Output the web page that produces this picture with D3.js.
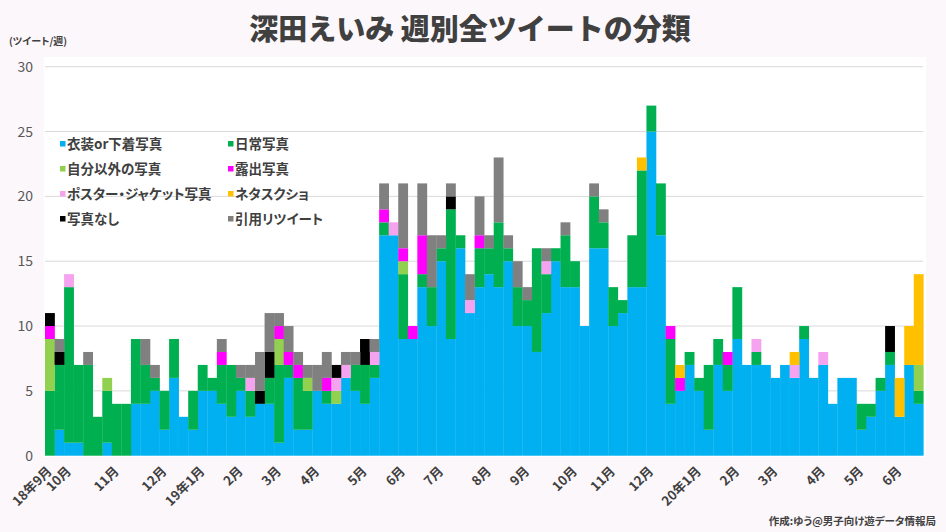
<!DOCTYPE html>
<html><head><meta charset="utf-8">
<script src="https://cdn.jsdelivr.net/npm/d3@7"></script>
<style>
html,body{margin:0;padding:0;background:#fcf7fb;}
svg{display:block;font-family:"Noto Sans CJK JP","Noto Sans",sans-serif;}
.palt{font-feature-settings:"palt";}
</style></head>
<body><svg id="chart" width="946" height="532"></svg>
<script>
// ---- data (weekly tweet counts, 92 weeks) ----
const seriesNames = ["衣装or下着写真","日常写真","自分以外の写真","露出写真","ポスター・ジャケット写真","ネタスクショ","写真なし","引用リツイート"];
const seriesColors = ["#00b0f0","#00b050","#92d050","#ff00ff","#f5a3ef","#ffc000","#000000","#808080"];
const costume   = [0,2,1,1,0,0,1,0,0,4,4,5,2,6,3,2,5,5,4,3,5,3,4,4,1,6,2,2,5,4,4,6,5,4,6,17,17,9,9,13,10,15,9,16,11,13,14,13,15,10,10,8,11,15,13,13,10,16,16,10,11,13,13,25,17,4,5,7,5,2,7,5,9,7,7,7,6,7,6,9,6,7,4,6,6,2,3,5,7,3,7,4];
const daily     = [5,5,12,6,7,3,4,4,4,5,3,1,3,3,0,3,2,1,3,4,1,2,0,2,6,1,4,3,0,1,0,0,2,3,1,1,0,5,0,1,3,1,10,1,0,3,2,5,1,3,2,8,3,1,4,2,0,4,2,3,1,4,9,2,4,5,0,1,1,5,2,2,4,0,1,0,0,0,0,1,0,0,0,0,0,2,1,1,1,0,0,1];
const others    = [4,0,0,0,0,0,1,0,0,0,0,0,0,0,0,0,0,0,0,0,0,0,0,0,2,0,0,1,0,0,1,0,0,0,0,0,0,1,0,0,0,0,0,0,0,0,0,0,0,0,0,0,0,0,0,0,0,0,0,0,0,0,0,0,0,0,0,0,0,0,0,0,0,0,0,0,0,0,0,0,0,0,0,0,0,0,0,0,0,0,0,2];
const exposure  = [1,0,0,0,0,0,0,0,0,0,0,0,0,0,0,0,0,0,1,0,0,0,0,0,1,1,1,0,0,1,0,0,0,0,0,1,0,1,1,3,0,0,0,0,0,1,0,0,0,0,0,0,0,0,0,0,0,0,0,0,0,0,0,0,0,1,1,0,0,0,0,1,0,0,0,0,0,0,0,0,0,0,0,0,0,0,0,0,0,0,0,0];
const poster    = [0,0,1,0,0,0,0,0,0,0,0,0,0,0,0,0,0,0,0,0,0,1,0,0,0,0,0,0,0,0,1,1,0,0,1,0,1,0,0,0,0,0,0,0,1,0,0,0,0,0,0,0,1,0,0,0,0,0,0,0,0,0,0,0,0,0,0,0,0,0,0,0,0,0,1,0,0,0,1,0,0,1,0,0,0,0,0,0,0,0,0,0];
const neta      = [0,0,0,0,0,0,0,0,0,0,0,0,0,0,0,0,0,0,0,0,0,0,0,0,0,0,0,0,0,0,0,0,0,0,0,0,0,0,0,0,0,0,0,0,0,0,0,0,0,0,0,0,0,0,0,0,0,0,0,0,0,0,1,0,0,0,1,0,0,0,0,0,0,0,0,0,0,0,1,0,0,0,0,0,0,0,0,0,0,3,3,7];
const noPhoto   = [1,1,0,0,0,0,0,0,0,0,0,0,0,0,0,0,0,0,0,0,0,0,1,2,0,0,0,0,0,0,1,0,0,2,0,0,0,0,0,0,0,0,1,0,0,0,0,0,0,0,0,0,0,0,0,0,0,0,0,0,0,0,0,0,0,0,0,0,0,0,0,0,0,0,0,0,0,0,0,0,0,0,0,0,0,0,0,0,2,0,0,0];
const quoteRT   = [0,1,0,0,1,0,0,0,0,0,2,1,0,0,0,0,0,0,1,0,1,1,3,3,1,2,1,1,2,2,0,1,1,0,1,2,0,5,0,4,4,1,1,0,2,3,1,5,1,2,1,0,1,0,1,0,0,1,1,0,0,0,0,0,0,0,0,0,0,0,0,0,0,0,0,0,0,0,0,0,0,0,0,0,0,0,0,0,0,0,0,0];
const monthLabels = ["18年9月","10月","11月","12月","19年1月","2月","3月","4月","5月","6月","7月","8月","9月","10月","11月","12月","20年1月","2月","3月","4月","5月","6月"];
const monthWeek   = [0,2,7,12,16,20,24,28,33,37,41,46,50,55,59,63,68,72,76,81,85,89];
const yTicks = [0,5,10,15,20,25,30];

const seriesValues = [costume,daily,others,exposure,poster,neta,noPhoto,quoteRT];
const weeks = d3.range(costume.length);
const keys = seriesNames;
const table = weeks.map(i => {
  const o = {week:i};
  keys.forEach((k,j)=>o[k]=seriesValues[j][i]);
  return o;
});

const svg = d3.select("#chart");
const mLeft = 45, mRight = 923.3, mTop = 66.7, mBottom = 455.7;

const x = d3.scaleBand().domain(weeks).range([mLeft,mRight]).padding(0);
const y = d3.scaleLinear().domain([0,30]).range([mBottom,mTop]);
const color = d3.scaleOrdinal().domain(keys).range(seriesColors);

// plot area background
svg.append("rect").attr("x",44).attr("y",57).attr("width",882).attr("height",400).attr("fill","#ffffff");

// gridlines
svg.append("g").selectAll("line").data(yTicks.filter(d=>d>0)).join("line")
  .attr("x1",mLeft).attr("x2",mRight).attr("y1",d=>y(d)).attr("y2",d=>y(d))
  .attr("stroke","#d9d9d9").attr("stroke-width",1);

// y tick labels
svg.append("g").selectAll("text").data(yTicks).join("text")
  .attr("x",33).attr("y",d=>y(d)).attr("dy","0.36em")
  .attr("text-anchor","end").attr("font-size",14).attr("fill","#595959")
  .text(d=>d);

// stacked bars
const stacked = d3.stack().keys(keys)(table);
svg.append("g").selectAll("g").data(stacked).join("g")
  .attr("fill",d=>color(d.key))
  .selectAll("rect").data(d=>d.filter(s=>s[1]>s[0])).join("rect")
  .attr("x",d=>x(d.data.week))
  .attr("width",x.bandwidth()+0.3)
  .attr("y",d=>y(d[1]))
  .attr("height",d=>y(d[0])-y(d[1]));

// x axis month labels
svg.append("g").selectAll("text").data(monthLabels).join("text")
  .attr("transform",(d,i)=>`translate(${x(monthWeek[i])+x.bandwidth()/2+3},472) rotate(-45)`)
  .attr("text-anchor","end").attr("font-size",13).attr("font-weight","bold").attr("fill","#404040")
  .text(d=>d);

// title
svg.append("text").attr("x",470).attr("y",40).attr("text-anchor","middle")
  .attr("font-size",29).attr("font-weight",900).attr("fill","#404040")
  .text("深田えいみ 週別全ツイートの分類");

// y unit
svg.append("text").attr("x",9).attr("y",45).attr("class","palt").attr("font-size",10).attr("font-weight","bold").attr("fill","#404040")
  .text("(ツイート/週)");

// credit
svg.append("text").attr("x",936).attr("y",525).attr("text-anchor","end").attr("class","palt")
  .attr("font-size",10.5).attr("font-weight","bold").attr("fill","#404040")
  .text("作成:ゆう@男子向け遊データ情報局");

// legend
const lg = svg.append("g").selectAll("g").data(keys).join("g")
  .attr("transform",(d,i)=>`translate(${i%2===0?60:228},${144+Math.floor(i/2)*25})`);
lg.append("rect").attr("x",0).attr("y",-3).attr("width",5.5).attr("height",5.5).attr("fill",d=>color(d));
lg.append("text").attr("x",7).attr("y",0).attr("dy","0.36em").attr("class","palt")
  .attr("font-size",13.5).attr("font-weight","bold").attr("fill","#404040").text(d=>d);
</script></body></html>
